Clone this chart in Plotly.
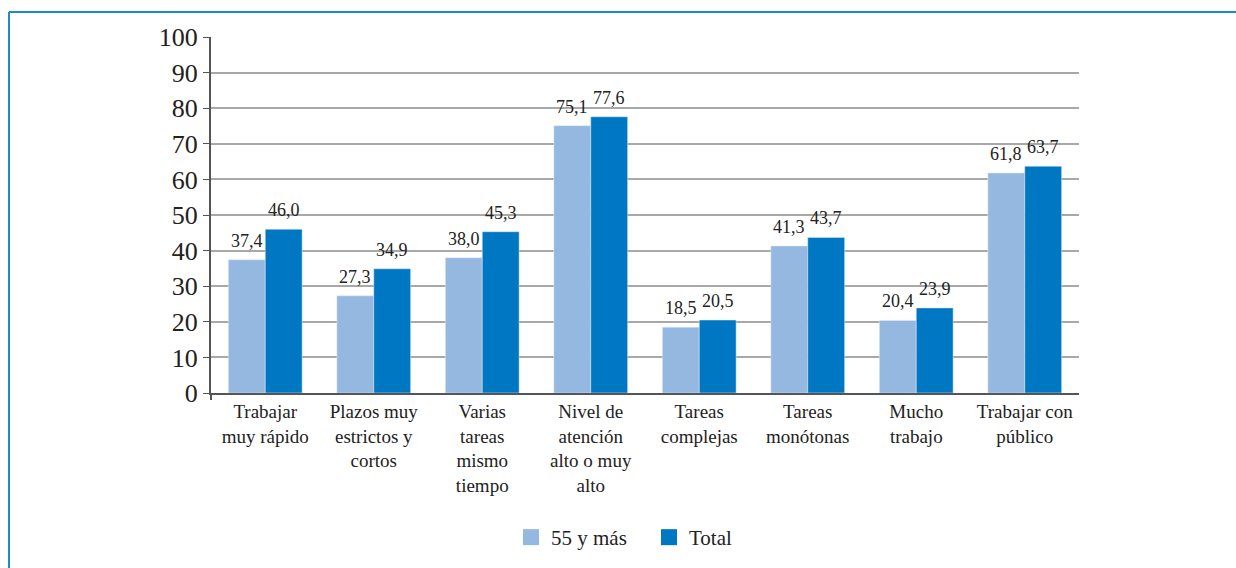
import plotly.graph_objects as go

categories = ["Trabajar<br>muy rápido", "Plazos muy<br>estrictos y<br>cortos", "Varias<br>tareas<br>mismo<br>tiempo",
              "Nivel de<br>atención<br>alto o muy<br>alto", "Tareas<br>complejas", "Tareas<br>monótonas",
              "Mucho<br>trabajo", "Trabajar con<br>público"]
serie_55 = [37.4, 27.3, 38.0, 75.1, 18.5, 41.3, 20.4, 61.8]
serie_total = [46.0, 34.9, 45.3, 77.6, 20.5, 43.7, 23.9, 63.7]
series_names = ["55 y más", "Total"]
series_colors = ["#95b8e0", "#0077c2"]
y_ticks = list(range(0, 101, 10))

FONT = "Liberation Serif, DejaVu Serif, serif"
W, H = 1236, 568
L, R, T, B = 211, 157, 37, 174

pw, ph = W - L - R, H - T - B
def px(x): return (x - L) / pw
def py(y): return (H - B - y) / ph

fig = go.Figure()
bar_w_px = pw / len(categories) * (1 - 0.32) / 2
annotations = []
for k, (vals, name, col) in enumerate(zip([serie_55, serie_total], series_names, series_colors)):
    fig.add_bar(x=categories, y=vals, name=name, marker_color=col, showlegend=False)
    fig.add_scatter(x=[None], y=[None], mode="markers", name=name,
                    marker=dict(symbol="square", size=19, color=col))
    shift = (-0.5 if k == 0 else 0.5) * bar_w_px
    for c, v in zip(categories, vals):
        annotations.append(dict(x=c, y=v, xref="x", yref="y", text=f"{v:.1f}".replace(".", ","),
                                showarrow=False, yanchor="bottom", yshift=7, xshift=shift,
                                font=dict(family=FONT, size=18, color="#222")))

fig.update_layout(
    width=W, height=H, margin=dict(l=L, r=R, t=T, b=B),
    paper_bgcolor="white", plot_bgcolor="white",
    barmode="group", bargap=0.32, bargroupgap=0,
    font=dict(family=FONT, color="#222"),
    legend=dict(orientation="h", x=px(511), xanchor="left", y=py(517), yanchor="top",
                font=dict(family=FONT, size=21), itemwidth=30, itemsizing="trace",
                entrywidth=93, entrywidthmode="pixels",
                bgcolor="rgba(0,0,0,0)"),
    showlegend=True,
    annotations=annotations,
    shapes=[
        dict(type="line", xref="paper", yref="paper", x0=px(9), x1=px(W + 10), y0=py(12), y1=py(12),
             line=dict(color="#1a8ad4", width=2)),
        dict(type="line", xref="paper", yref="paper", x0=px(9), x1=px(9), y0=py(12), y1=py(H + 10),
             line=dict(color="#1a8ad4", width=2)),
        dict(type="line", xref="paper", yref="paper", x0=0, x1=0, y0=0, y1=py(401),
             line=dict(color="#555", width=2)),
    ],
)
fig.update_xaxes(showline=True, linecolor="#555", linewidth=2, ticks="", showgrid=False,
                 tickfont=dict(family=FONT, size=19, color="#222"))
fig.update_yaxes(range=[0, 100], tickvals=y_ticks, showline=True, linecolor="#555", linewidth=2,
                 ticks="outside", ticklen=6, tickcolor="#555", tickwidth=1,
                 showgrid=True, gridcolor="#a8a8a8", gridwidth=2, zeroline=False,
                 tickfont=dict(family=FONT, size=26, color="#222"))

fig.write_html("out.html", config={"displayModeBar": False},
               post_script="document.body.style.margin='0';document.body.style.padding='0';")
